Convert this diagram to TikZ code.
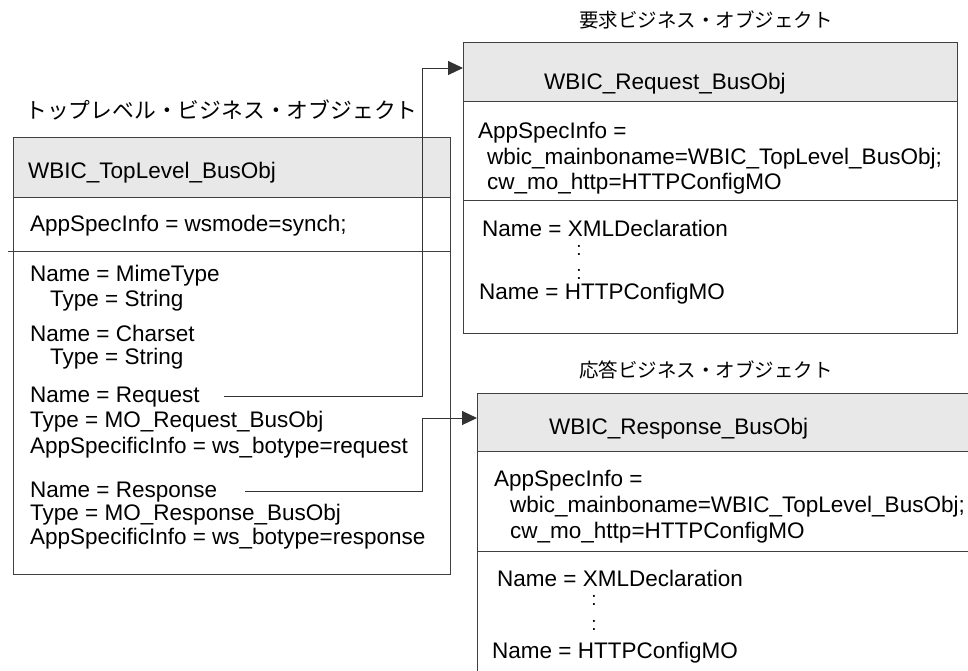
\documentclass[tikz,border=0pt]{standalone}
\usepackage{fontspec}
\setmainfont{Liberation Sans}
\newfontfamily\jpfont{Noto Sans CJK JP}
\usetikzlibrary{arrows.meta}

\begin{document}
\begin{tikzpicture}[x=1pt,y=-1pt,
  txt/.style={anchor=base west,inner sep=0pt,font=\fontsize{22.5}{25}\selectfont},
  dots/.style={inner sep=0pt,font=\fontsize{19}{22}\selectfont},
  jtitle/.style={inner sep=0pt,font=\jpfont\fontsize{19.5}{24}\selectfont},
  frame/.style={draw=black!75,line width=1pt},
  hdr/.style={frame,fill=black!9},
  link/.style={draw=black!80,line width=1pt,-{Triangle[length=15pt,width=14pt]}}]
\useasboundingbox (0,0) rectangle (968,670);
\clip (0,0) rectangle (968,670);

% top level business object
\node[jtitle,anchor=west,font=\jpfont\fontsize{21.8}{24}\selectfont] (ttop) at (25,110) {トップレベル・ビジネス・オブジェクト};
\draw[frame] (13,137) rectangle (450,574);
\draw[hdr] (13,137) rectangle (450,197);
\draw[frame] (8,251) -- (450,251);
\node[txt] (htop) at (28,178) {WBIC\_TopLevel\_BusObj};
\node[txt] (atop) at (30,231) {AppSpecInfo = wsmode=synch;};
\foreach \x/\y/\t in {30/281/{Name = MimeType}, 50/306/{Type = String},
    30/341/{Name = Charset}, 50/364/{Type = String},
    30/427/{Type = MO\_Request\_BusObj},
    30/453/{AppSpecificInfo = ws\_botype=request},
    30/520/{Type = MO\_Response\_BusObj},
    30/544/{AppSpecificInfo = ws\_botype=response}}
  \node[txt] (f\y) at (\x,\y) {\t};
\node[txt] (nreq) at (30,402) {Name = Request};
\node[txt] (nresp) at (30,497) {Name = Response};

% request business object
\node[jtitle,anchor=east] (treq) at (833,20) {要求ビジネス・オブジェクト};
\draw[frame] (463,42) rectangle (957,333);
\draw[hdr] (463,42) rectangle (957,101);
\draw[frame] (463,200) -- (957,200);
\node[txt] (hreq) at (544,89) {WBIC\_Request\_BusObj};
\node[txt] (areq) at (478,138) {AppSpecInfo =};
\node[txt] (breq) at (487,164) {wbic\_mainboname=WBIC\_TopLevel\_BusObj;};
\node[txt] (creq) at (487,189) {cw\_mo\_http=HTTPConfigMO};
\node[txt] (xreq) at (482,236) {Name = XMLDeclaration};
\node[dots] (d1req) at (579,250) {:};
\node[dots] (d2req) at (579,274) {:};
\node[txt] (mreq) at (479,299) {Name = HTTPConfigMO};

% response business object
\node[jtitle,anchor=east] (tresp) at (833,370) {応答ビジネス・オブジェクト};
\draw[frame] (477,393) rectangle (990,700);
\draw[hdr] (477,393) rectangle (990,451);
\draw[frame] (477,551) -- (990,551);
\node[txt] (hresp) at (549,434) {WBIC\_Response\_BusObj};
\node[txt] (aresp) at (494,486) {AppSpecInfo =};
\node[txt] (bresp) at (510,512) {wbic\_mainboname=WBIC\_TopLevel\_BusObj;};
\node[txt] (cresp) at (510,538) {cw\_mo\_http=HTTPConfigMO};
\node[txt] (xresp) at (497,586) {Name = XMLDeclaration};
\node[dots] (d1resp) at (594,600) {:};
\node[dots] (d2resp) at (594,625) {:};
\node[txt] (mresp) at (492,658) {Name = HTTPConfigMO};

% connectors
\coordinate (rqcorner) at (422,68);
\coordinate (rqtip) at (463,68);
\coordinate (rscorner) at (422,418);
\coordinate (rstip) at (477,418);
\draw[link] ([xshift=24pt]nreq.east) -| (rqcorner) -- (rqtip);
\draw[link] ([xshift=28pt]nresp.east) -| (rscorner) -- (rstip);
\end{tikzpicture}
\end{document}
